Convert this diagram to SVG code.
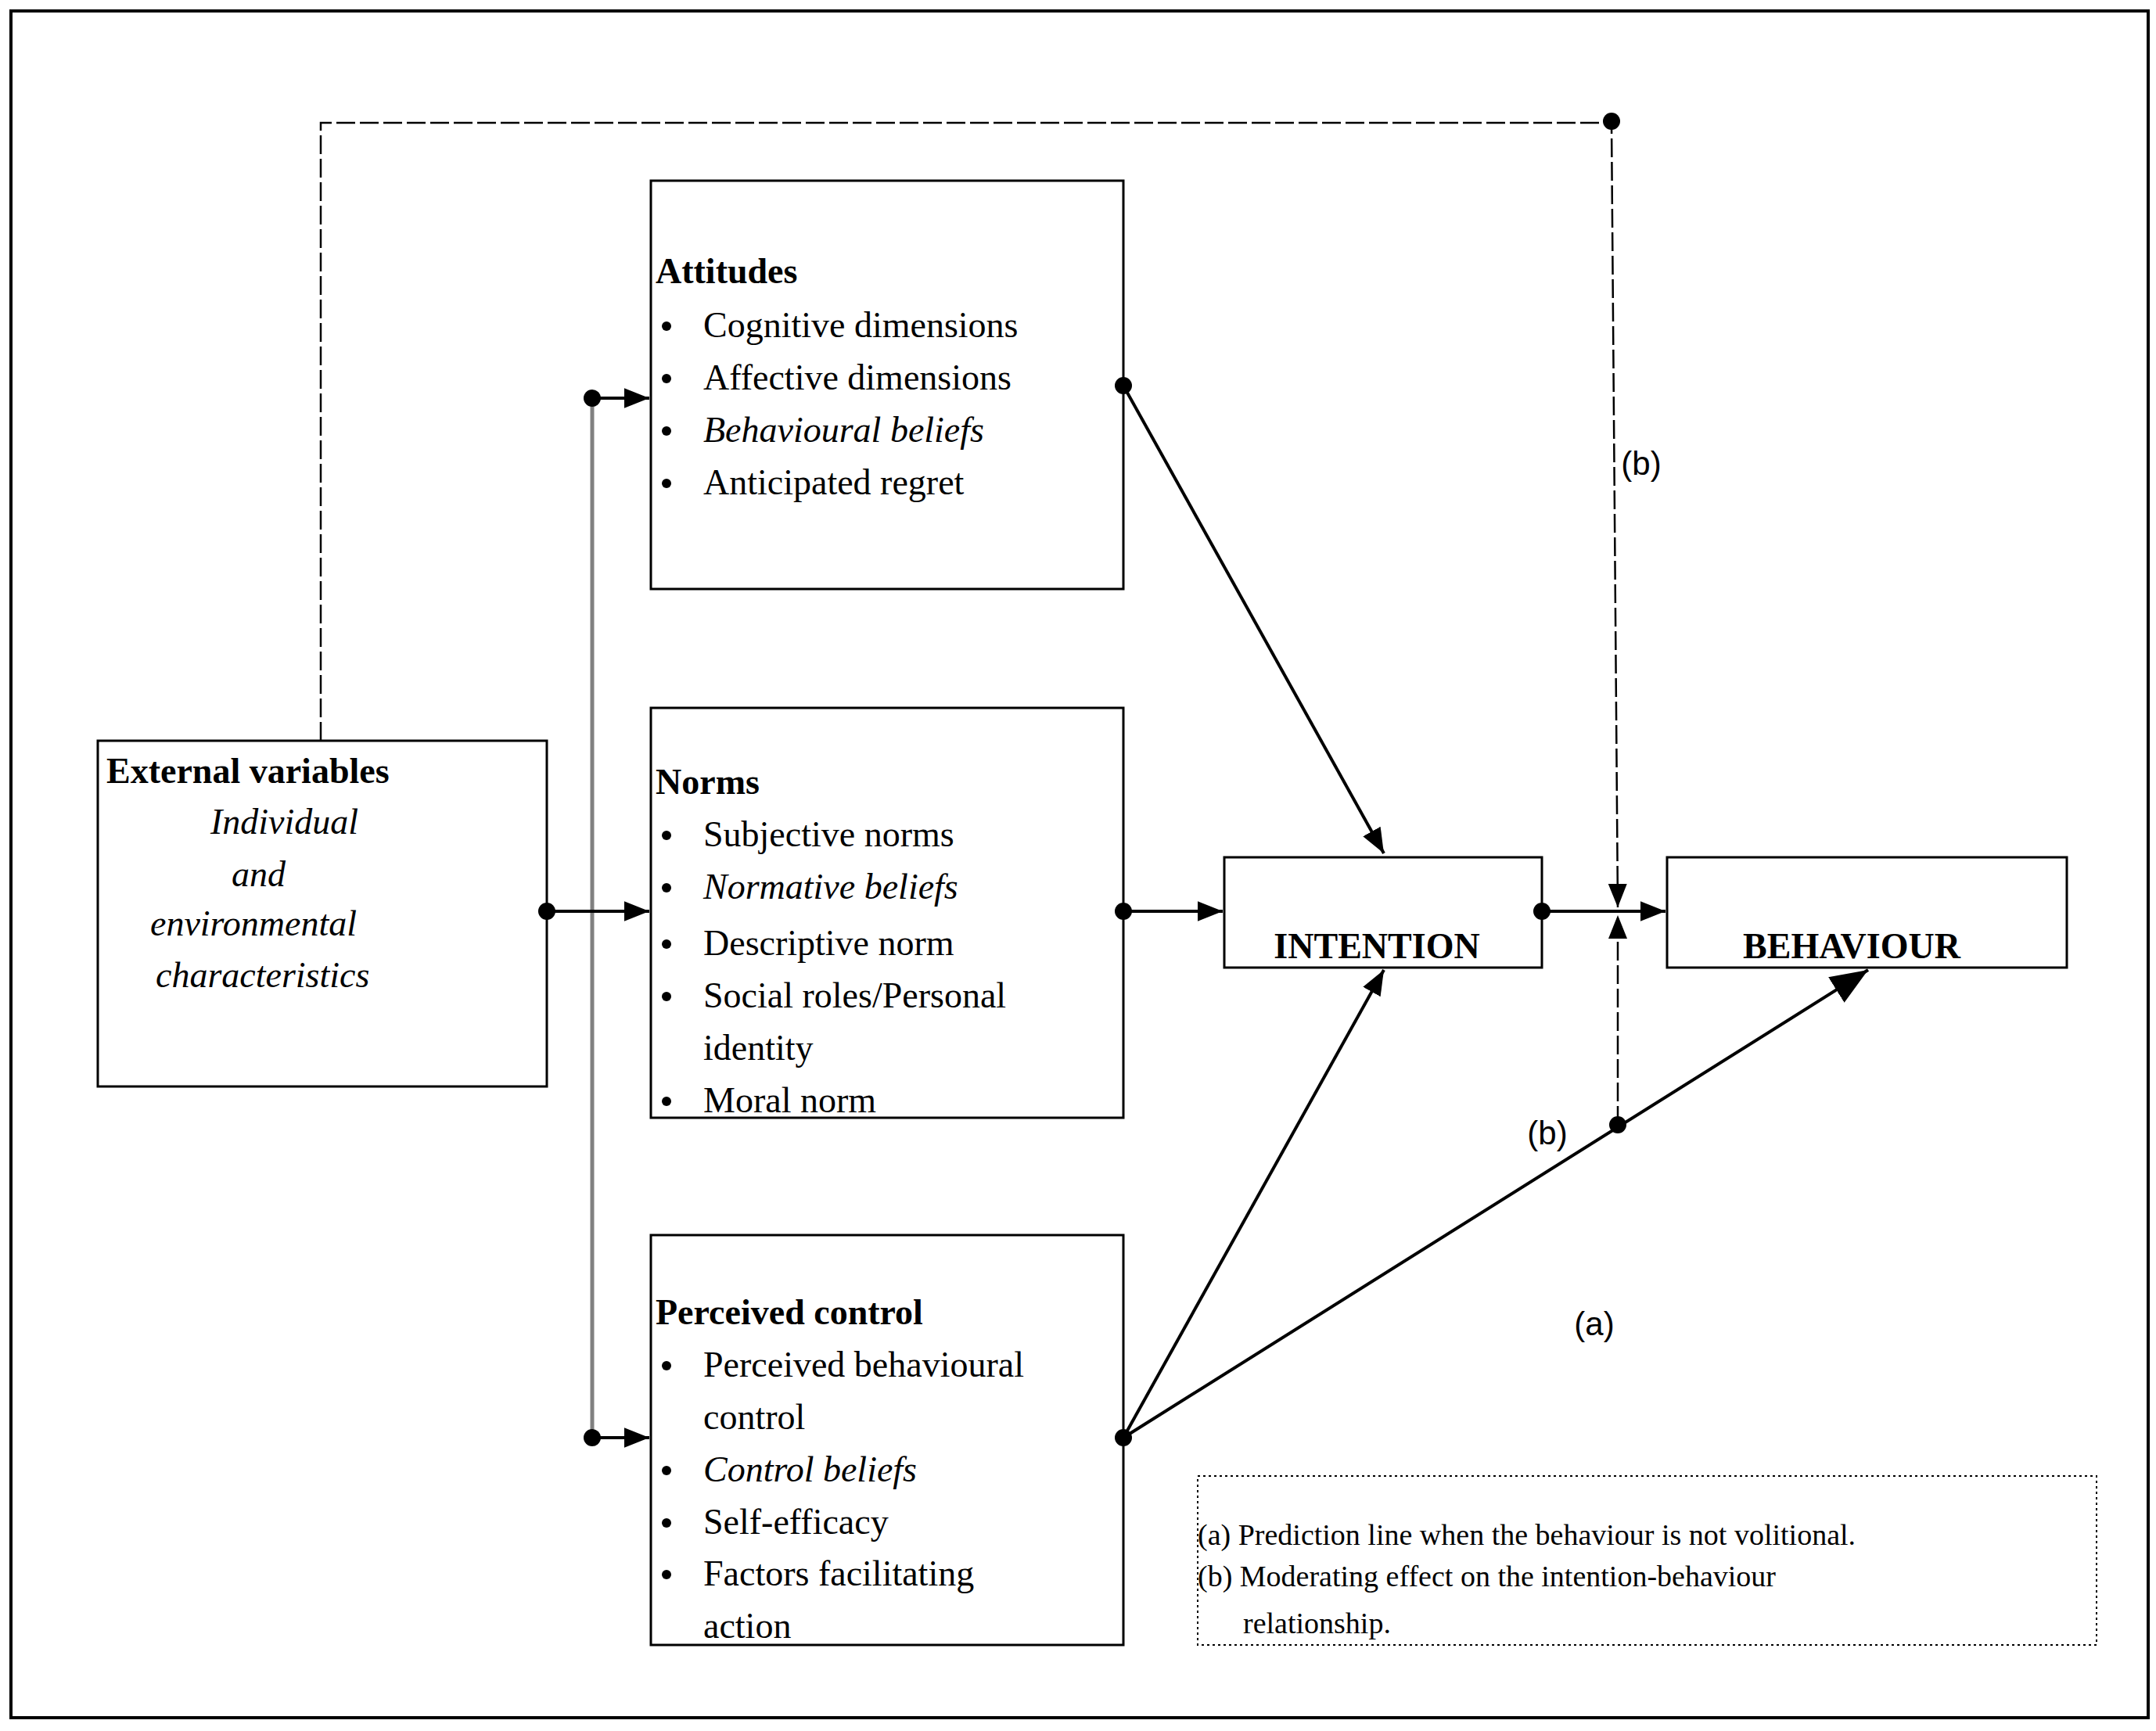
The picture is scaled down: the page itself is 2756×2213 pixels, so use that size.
<svg xmlns="http://www.w3.org/2000/svg" width="2756" height="2213" viewBox="0 0 2756 2213">
<style>
.box{fill:#fff;stroke:#000;stroke-width:3}
.t{font-family:"Liberation Serif",serif;font-size:46px;fill:#000}
.b{font-weight:bold}
.i{font-style:italic}
.s{font-family:"Liberation Sans",sans-serif;font-size:42px;fill:#000}
.lg{font-family:"Liberation Serif",serif;font-size:38px;fill:#000}
.ln{stroke:#000;stroke-width:4;fill:none}
.d{stroke:#000;stroke-width:2.5;fill:none;stroke-dasharray:24 6}
</style>
<defs>
<marker id="a" viewBox="0 0 10 10" refX="10" refY="5" markerWidth="8" markerHeight="8" orient="auto" markerUnits="strokeWidth"><path d="M0,1 L10,5 L0,9 z" fill="#000"/></marker>
<marker id="a2" viewBox="0 0 10 10" refX="10" refY="5" markerWidth="12" markerHeight="12" orient="auto" markerUnits="strokeWidth"><path d="M0,1 L10,5 L0,9 z" fill="#000"/></marker>
</defs>
<rect x="14" y="14" width="2732" height="2182" fill="#fff" stroke="#000" stroke-width="4"/>
<g id="external"><rect class="box" x="125" y="947" width="574" height="442"/>
<text class="t b" x="136" y="1001">External variables</text>
<text class="t i" x="269" y="1066">Individual</text>
<text class="t i" x="296" y="1133">and</text>
<text class="t i" x="192" y="1196">environmental</text>
<text class="t i" x="199" y="1262">characteristics</text></g>
<g id="attitudes"><rect class="box" x="832" y="231" width="604" height="522"/>
<text class="t b" x="838" y="362">Attitudes</text>
<g class="t"><circle cx="852" cy="417" r="6"/><text x="899" y="431">Cognitive dimensions</text>
<circle cx="852" cy="484" r="6"/><text x="899" y="498">Affective dimensions</text>
<circle cx="852" cy="551" r="6"/><text class="i" x="899" y="565">Behavioural beliefs</text>
<circle cx="852" cy="618" r="6"/><text x="899" y="632">Anticipated regret</text></g></g>
<g id="norms"><rect class="box" x="832" y="905" width="604" height="524"/>
<text class="t b" x="838" y="1015">Norms</text>
<g class="t"><circle cx="852" cy="1068" r="6"/><text x="899" y="1082">Subjective norms</text>
<circle cx="852" cy="1135" r="6"/><text class="i" x="899" y="1149">Normative beliefs</text>
<circle cx="852" cy="1207" r="6"/><text x="899" y="1221">Descriptive norm</text>
<circle cx="852" cy="1274" r="6"/><text x="899" y="1288">Social roles/Personal</text>
<text x="899" y="1355">identity</text>
<circle cx="852" cy="1408" r="6"/><text x="899" y="1422">Moral norm</text></g></g>
<g id="control"><rect class="box" x="832" y="1579" width="604" height="524"/>
<text class="t b" x="838" y="1693">Perceived control</text>
<g class="t"><circle cx="852" cy="1746" r="6"/><text x="899" y="1760">Perceived behavioural</text>
<text x="899" y="1827">control</text>
<circle cx="852" cy="1880" r="6"/><text class="i" x="899" y="1894">Control beliefs</text>
<circle cx="852" cy="1947" r="6"/><text x="899" y="1961">Self-efficacy</text>
<circle cx="852" cy="2013" r="6"/><text x="899" y="2027">Factors facilitating</text>
<text x="899" y="2094">action</text></g></g>
<g id="intention"><rect class="box" x="1565" y="1096" width="406" height="141"/>
<text class="t b" x="1760" y="1225" text-anchor="middle">INTENTION</text></g>
<g id="behaviour"><rect class="box" x="2131" y="1096" width="511" height="141"/>
<text class="t b" x="2367" y="1225" text-anchor="middle">BEHAVIOUR</text></g>
<g id="labels">
<text class="s" x="2098" y="607" text-anchor="middle">(b)</text>
<text class="s" x="1978" y="1463" text-anchor="middle">(b)</text>
<text class="s" x="2038" y="1707" text-anchor="middle">(a)</text></g>
<g id="legend"><rect x="1531" y="1887" width="1149" height="216" fill="none" stroke="#000" stroke-width="2" stroke-dasharray="3 4"/>
<text class="lg" x="1531" y="1975">(a) Prediction line when the behaviour is not volitional.</text>
<text class="lg" x="1531" y="2028">(b) Moderating effect on the intention-behaviour</text>
<text class="lg" x="1589" y="2088">relationship.</text></g>
<g id="connectors">
<path class="d" d="M410,947 V157 H2060 L2068,1160" marker-end="url(#a2)"/>
<path class="d" d="M2068,1438 V1170" marker-end="url(#a2)"/>
<line x1="757" y1="509" x2="757" y2="1838" stroke="#808080" stroke-width="5"/>
<line class="ln" x1="757" y1="509" x2="830" y2="509" marker-end="url(#a)"/>
<line class="ln" x1="757" y1="1838" x2="830" y2="1838" marker-end="url(#a)"/>
<line class="ln" x1="699" y1="1165" x2="830" y2="1165" marker-end="url(#a)"/>
<line class="ln" x1="1436" y1="493" x2="1769" y2="1091" marker-end="url(#a)"/>
<line class="ln" x1="1436" y1="1165" x2="1563" y2="1165" marker-end="url(#a)"/>
<line class="ln" x1="1436" y1="1838" x2="1769" y2="1240" marker-end="url(#a)"/>
<line class="ln" x1="1436" y1="1838" x2="2388" y2="1240" stroke-width="3" marker-end="url(#a2)"/>
<line class="ln" x1="1971" y1="1165" x2="2129" y2="1165" stroke-width="6" marker-end="url(#a)"/>
<g fill="#000">
<circle cx="2060" cy="155" r="11"/><circle cx="2068" cy="1438" r="11"/>
<circle cx="757" cy="509" r="11"/><circle cx="757" cy="1838" r="11"/>
<circle cx="699" cy="1165" r="11"/><circle cx="1436" cy="493" r="11"/>
<circle cx="1436" cy="1165" r="11"/><circle cx="1436" cy="1838" r="11"/>
<circle cx="1971" cy="1165" r="11"/>
</g>
</g>
</svg>
